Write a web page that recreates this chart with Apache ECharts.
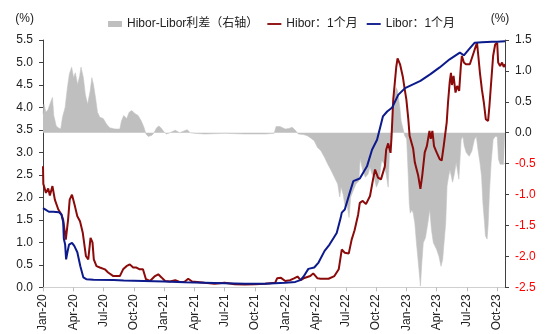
<!DOCTYPE html>
<html>
<head>
<meta charset="utf-8">
<script src="https://cdn.jsdelivr.net/npm/echarts@6/dist/echarts.min.js"></script>
<style>
  html, body { margin: 0; padding: 0; background: #fff; }
  #chart { width: 550px; height: 334px; }
</style>
</head>
<body>
<div id="chart"></div>
<script>
// Quarter tick labels along the time axis
const xTickLabels = ['Jan-20','Apr-20','Jul-20','Oct-20','Jan-21','Apr-21','Jul-21','Oct-21',
  'Jan-22','Apr-22','Jul-22','Oct-22','Jan-23','Apr-23','Jul-23','Oct-23'];

// USD Libor, 1 month (%)
const liborDates = ['2020-01-01','2020-01-10','2020-01-19','2020-02-01','2020-02-18','2020-02-25','2020-03-01','2020-03-03',
  '2020-03-07','2020-03-10','2020-03-14','2020-03-19','2020-03-28','2020-04-04','2020-04-13','2020-04-22','2020-05-01',
  '2020-05-10','2020-06-01','2020-08-01','2020-09-01','2020-11-01','2021-01-01','2021-03-01','2021-05-01','2021-07-01',
  '2021-09-01','2021-11-01','2022-01-01','2022-02-01','2022-02-15','2022-02-24','2022-03-10','2022-03-28','2022-04-10',
  '2022-04-28','2022-05-13','2022-06-04','2022-06-16','2022-06-19','2022-06-28','2022-07-13','2022-07-24','2022-08-13',
  '2022-09-04','2022-09-19','2022-10-04','2022-10-22','2022-11-04','2022-11-19','2022-12-07','2022-12-28','2023-01-01',
  '2023-02-12','2023-03-13','2023-04-10','2023-05-10','2023-06-10','2023-06-22','2023-07-07','2023-07-25','2023-08-16',
  '2023-09-16','2023-10-01','2023-10-25'];
const liborValues = [1.76,1.72,1.68,1.68,1.67,1.62,1.45,1.08,
  0.95,0.62,0.78,0.95,0.99,0.92,0.78,0.47,0.22,
  0.18,0.17,0.16,0.15,0.14,0.13,0.11,0.10,0.09,
  0.08,0.08,0.10,0.12,0.16,0.24,0.41,0.44,0.55,
  0.81,0.95,1.21,1.55,1.66,1.73,2.10,2.36,2.42,
  2.69,3.06,3.28,3.80,3.91,4.00,4.28,4.43,4.44,
  4.59,4.74,4.89,5.07,5.22,5.16,5.29,5.44,5.45,
  5.46,5.46,5.47];

// HKD Hibor, 1 month (%)
const hiborDates = ['2020-01-01','2020-01-02','2020-01-10','2020-01-17','2020-01-22','2020-01-30','2020-02-06','2020-02-16',
  '2020-02-25','2020-03-01','2020-03-09','2020-03-16','2020-03-21','2020-03-28','2020-04-06','2020-04-13','2020-04-21',
  '2020-04-29','2020-05-09','2020-05-16','2020-05-23','2020-05-29','2020-06-02','2020-06-10','2020-06-20','2020-07-05',
  '2020-07-15','2020-07-31','2020-08-20','2020-08-30','2020-09-09','2020-09-19','2020-09-29','2020-10-09','2020-10-19',
  '2020-10-29','2020-11-07','2020-11-19','2020-12-04','2020-12-14','2020-12-24','2021-01-04','2021-01-19','2021-02-04',
  '2021-02-16','2021-03-01','2021-03-13','2021-03-25','2021-05-01','2021-06-01','2021-07-01','2021-08-01','2021-09-01',
  '2021-10-01','2021-11-01','2021-12-01','2021-12-07','2021-12-19','2022-01-01','2022-01-16','2022-01-28','2022-02-07',
  '2022-02-16','2022-02-24','2022-03-16','2022-03-25','2022-04-07','2022-04-16','2022-05-10','2022-05-28','2022-06-10',
  '2022-06-19','2022-06-28','2022-07-10','2022-07-19','2022-07-28','2022-08-08','2022-08-13','2022-08-22','2022-09-01',
  '2022-09-13','2022-09-22','2022-09-28','2022-10-07','2022-10-16','2022-10-28','2022-11-01','2022-11-07','2022-11-14',
  '2022-11-17','2022-11-22','2022-12-01','2022-12-05','2022-12-13','2022-12-21','2022-12-27','2023-01-01','2023-01-07',
  '2023-01-11','2023-01-22','2023-01-27','2023-02-06','2023-02-12','2023-02-17','2023-02-24','2023-03-02','2023-03-10',
  '2023-03-14','2023-03-19','2023-03-24','2023-04-01','2023-04-10','2023-04-16','2023-04-22','2023-05-01','2023-05-05',
  '2023-05-10','2023-05-14','2023-05-17','2023-05-22','2023-05-28','2023-06-02','2023-06-08','2023-06-13','2023-06-16',
  '2023-06-22','2023-06-28','2023-07-04','2023-07-10','2023-07-16','2023-07-25','2023-08-01','2023-08-05','2023-08-10',
  '2023-08-16','2023-08-22','2023-08-28','2023-09-04','2023-09-08','2023-09-13','2023-09-19','2023-09-25','2023-10-01',
  '2023-10-04','2023-10-10','2023-10-16','2023-10-21','2023-10-25'];
const hiborValues = [2.69,2.30,2.10,2.20,2.04,2.25,1.95,1.73,
  1.62,1.50,1.06,1.50,1.95,2.06,1.80,1.58,1.47,
  1.22,0.69,0.62,1.10,1.00,0.62,0.47,0.44,0.40,
  0.33,0.25,0.25,0.40,0.47,0.51,0.44,0.44,0.40,
  0.40,0.18,0.14,0.25,0.29,0.22,0.14,0.13,0.16,
  0.12,0.12,0.19,0.13,0.10,0.08,0.10,0.07,0.06,
  0.07,0.08,0.10,0.20,0.21,0.14,0.16,0.20,0.24,
  0.16,0.20,0.25,0.31,0.20,0.19,0.19,0.25,0.40,
  0.84,0.77,0.75,1.06,1.27,1.62,1.88,1.92,1.85,
  2.03,2.40,2.62,2.44,2.40,2.69,3.06,3.20,2.99,
  3.35,4.17,4.90,5.09,4.95,4.69,4.40,4.18,3.74,
  3.37,3.08,2.78,2.48,2.19,2.48,3.00,3.14,3.48,
  3.30,3.48,3.14,3.00,2.85,2.82,3.14,3.67,4.11,
  4.55,4.77,4.50,4.70,4.33,4.48,4.37,4.92,5.15,
  5.00,4.96,5.00,4.96,5.00,5.29,5.44,5.15,4.77,
  4.40,4.11,3.74,3.70,4.04,4.55,5.15,5.40,5.44,
  5.00,4.92,5.00,4.90,4.96];

// Hibor minus Libor spread (percentage points, right axis)
const spreadDates = ['2020-01-01','2020-01-04','2020-01-10','2020-01-17','2020-01-22','2020-01-30','2020-02-03','2020-02-10',
  '2020-02-16','2020-02-23','2020-02-28','2020-03-07','2020-03-14','2020-03-20','2020-03-27','2020-04-02','2020-04-07',
  '2020-04-14','2020-04-20','2020-04-24','2020-05-01','2020-05-07','2020-05-14','2020-05-22','2020-05-27','2020-06-01',
  '2020-06-07','2020-06-13','2020-06-20','2020-06-30','2020-07-10','2020-07-20','2020-08-05','2020-08-20','2020-08-25',
  '2020-09-01','2020-09-10','2020-09-17','2020-09-25','2020-10-04','2020-10-14','2020-10-24','2020-11-01','2020-11-07',
  '2020-11-14','2020-11-25','2020-12-01','2020-12-09','2020-12-16','2020-12-24','2021-01-01','2021-01-08','2021-01-19',
  '2021-02-04','2021-02-16','2021-03-10','2021-03-19','2021-04-01','2021-05-01','2021-07-01','2021-09-01','2021-11-01',
  '2021-11-28','2021-12-04','2021-12-16','2022-01-01','2022-01-13','2022-01-22','2022-02-01','2022-02-09','2022-02-24',
  '2022-03-07','2022-03-16','2022-03-28','2022-04-07','2022-04-17','2022-04-28','2022-05-07','2022-05-18','2022-05-28',
  '2022-06-07','2022-06-13','2022-06-17','2022-06-23','2022-06-29','2022-07-04','2022-07-11','2022-07-16','2022-07-22',
  '2022-08-01','2022-08-10','2022-08-14','2022-08-22','2022-08-30','2022-09-07','2022-09-13','2022-09-19','2022-09-25',
  '2022-10-02','2022-10-10','2022-10-18','2022-10-25','2022-11-01','2022-11-07','2022-11-11','2022-11-16','2022-11-20',
  '2022-11-26','2022-12-01','2022-12-05','2022-12-12','2022-12-16','2022-12-22','2022-12-27','2023-01-02','2023-01-07',
  '2023-01-10','2023-01-13','2023-01-18','2023-01-22','2023-01-27','2023-02-01','2023-02-08','2023-02-12','2023-02-16',
  '2023-02-20','2023-02-26','2023-03-05','2023-03-11','2023-03-16','2023-03-22','2023-04-01','2023-04-08','2023-04-14',
  '2023-04-19','2023-04-23','2023-04-28','2023-05-02','2023-05-07','2023-05-11','2023-05-19','2023-05-25','2023-05-30',
  '2023-06-07','2023-06-14','2023-06-19','2023-06-23','2023-06-29','2023-07-08','2023-07-16','2023-07-24','2023-07-30',
  '2023-08-04','2023-08-10','2023-08-15','2023-08-19','2023-08-24','2023-08-27','2023-09-01','2023-09-04','2023-09-08',
  '2023-09-13','2023-09-19','2023-09-25','2023-10-01','2023-10-05','2023-10-10','2023-10-16','2023-10-21','2023-10-25'];
const spreadValues = [0.30,0.46,0.33,0.38,0.46,0.57,0.28,0.11,
  0.08,0.06,0.25,0.41,0.73,0.95,1.06,0.89,0.97,
  0.78,0.92,1.06,0.89,0.62,0.46,0.68,0.89,0.78,
  0.57,0.33,0.25,0.23,0.14,0.08,0.06,0.06,0.19,
  0.28,0.23,0.33,0.36,0.31,0.28,0.19,0.09,-0.02,
  -0.06,-0.04,0.00,0.08,0.11,0.07,0.01,-0.02,0.00,
  0.04,0.00,0.05,0.00,-0.01,-0.02,-0.01,-0.02,-0.02,
  -0.01,0.10,0.10,0.06,0.07,0.09,0.04,-0.02,-0.03,
  -0.05,-0.08,-0.13,-0.24,-0.29,-0.40,-0.50,-0.61,-0.72,
  -0.83,-1.04,-0.88,-0.99,-1.20,-1.13,-1.37,-1.04,-0.96,
  -0.83,-0.78,-0.42,-0.61,-0.72,-0.67,-0.56,-0.67,-0.72,
  -0.88,-0.78,-0.45,-0.50,-0.67,-0.88,-0.30,0.00,0.19,
  0.62,0.73,0.68,0.41,0.19,0.06,-0.05,-0.10,-0.71,
  -1.14,-1.30,-1.25,-1.30,-1.46,-1.78,-2.21,-2.48,-2.10,
  -1.78,-1.70,-1.46,-1.24,-1.56,-1.78,-1.89,-2.00,-2.16,
  -2.05,-1.78,-1.46,-0.86,-0.70,-0.60,-0.80,-0.65,-0.48,
  -0.75,-0.11,-0.06,-0.21,-0.32,-0.38,-0.30,-0.11,-0.06,
  -0.27,-0.48,-0.70,-1.13,-1.45,-1.67,-1.72,-1.50,-0.97,
  -0.48,-0.11,-0.06,-0.06,-0.43,-0.51,-0.48,-0.51,-0.49];

// Position on the x axis, in months since January 2020
function monthPos(s) {
  const [y, m, d] = s.split('-').map(Number);
  const daysInMonth = new Date(y, m, 0).getDate();
  return (y - 2020) * 12 + (m - 1) + (d - 1) / daysInMonth;
}
function pairs(dates, values) {
  return dates.map((d, i) => [monthPos(d), values[i]]);
}

const tickPositions = xTickLabels.map((_, i) => i * 3);
const xMax = monthPos(liborDates[liborDates.length - 1]);
const FONT = '"Liberation Sans", Arial, "Noto Sans CJK SC", sans-serif';
const FS = 12;

const chart = echarts.init(document.getElementById('chart'), null, { renderer: 'canvas' });
chart.setOption({
  animation: false,
  textStyle: { fontFamily: FONT },
  grid: { left: 43, right: 45, top: 40, bottom: 46, containLabel: false },
  legend: {
    left: 103, top: 13,
    itemGap: 9,
    itemWidth: 14, itemHeight: 6,
    textStyle: { fontFamily: FONT, fontSize: FS, color: '#222' },
    data: [
      { name: 'Hibor-Libor利差（右轴）', icon: 'rect' },
      { name: 'Hibor：1个月', icon: 'path://M0,0 H15 V2 H0 Z' },
      { name: 'Libor：1个月', icon: 'path://M0,0 H15 V2 H0 Z' }
    ]
  },
  xAxis: {
    type: 'value',
    min: 0,
    max: xMax,
    splitLine: { show: false },
    axisLine: { lineStyle: { color: '#d0d0d0', width: 1 } },
    axisTick: { show: true, length: 4, lineStyle: { color: '#bdbdbd' }, customValues: tickPositions },
    axisLabel: {
      customValues: tickPositions,
      rotate: 90,
      margin: 7,
      fontSize: FS,
      color: '#222',
      fontFamily: FONT,
      formatter: v => xTickLabels[Math.round(v / 3)] || ''
    }
  },
  yAxis: [
    {
      type: 'value',
      min: 0, max: 5.5, interval: 0.5,
      name: '(%)',
      nameLocation: 'end',
      nameGap: 15,
      nameTextStyle: { fontFamily: FONT, fontSize: FS, color: '#222', align: 'right', padding: [0, 9, 0, 0] },
      splitLine: { show: false },
      axisLine: { show: true, lineStyle: { color: '#404040' } },
      axisTick: { show: true, length: 4, lineStyle: { color: '#404040' } },
      axisLabel: { fontSize: FS, color: '#222', margin: 10, fontFamily: FONT, formatter: v => v.toFixed(1) }
    },
    {
      type: 'value',
      min: -2.5, max: 1.5, interval: 0.5,
      name: '(%)',
      nameLocation: 'end',
      nameGap: 15,
      nameTextStyle: { fontFamily: FONT, fontSize: FS, color: '#222', align: 'center', padding: [0, 10, 0, 0] },
      splitLine: { show: false },
      axisLine: { show: true, lineStyle: { color: '#404040' } },
      axisTick: { show: true, length: 4, lineStyle: { color: '#404040' } },
      axisLabel: {
        fontSize: FS, margin: 10, fontFamily: FONT,
        color: v => (Number(v) < 0 ? '#ff0000' : '#222'),
        formatter: v => v.toFixed(1)
      }
    }
  ],
  series: [
    {
      name: 'Hibor-Libor利差（右轴）',
      type: 'line',
      yAxisIndex: 1,
      data: pairs(spreadDates, spreadValues),
      showSymbol: false,
      symbol: 'none',
      lineStyle: { width: 0.6, color: '#c4c4c4' },
      itemStyle: { color: '#bfbfbf' },
      areaStyle: { color: '#bfbfbf', opacity: 1 },
      z: 1
    },
    {
      name: 'Hibor：1个月',
      type: 'line',
      yAxisIndex: 0,
      data: pairs(hiborDates, hiborValues),
      showSymbol: false,
      symbol: 'none',
      lineStyle: { width: 2, color: '#8b0a0a' },
      itemStyle: { color: '#8b0a0a' },
      z: 3
    },
    {
      name: 'Libor：1个月',
      type: 'line',
      yAxisIndex: 0,
      data: pairs(liborDates, liborValues),
      showSymbol: false,
      symbol: 'none',
      lineStyle: { width: 2, color: '#0c1a8c' },
      itemStyle: { color: '#0c1a8c' },
      z: 4
    }
  ]
});
</script>
</body>
</html>
